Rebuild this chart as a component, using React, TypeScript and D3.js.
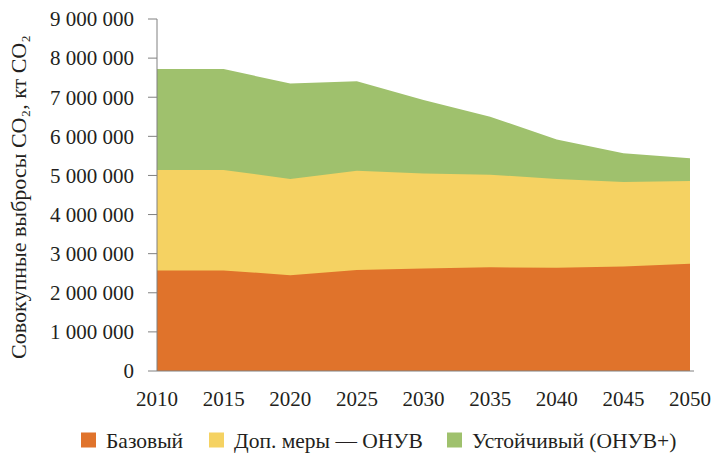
import React, { useEffect, useRef } from 'react'
import * as d3 from 'd3'

const years = [2010, 2015, 2020, 2025, 2030, 2035, 2040, 2045, 2050]
const baseline = [2570000, 2570000, 2450000, 2580000, 2620000, 2650000, 2640000, 2670000, 2740000]
const extraMeasures = [5140000, 5140000, 4910000, 5120000, 5050000, 5020000, 4910000, 4830000, 4860000]
const sustainable = [7720000, 7720000, 7350000, 7410000, 6930000, 6500000, 5920000, 5570000, 5440000]
const yTicks = [0, 1000000, 2000000, 3000000, 4000000, 5000000, 6000000, 7000000, 8000000, 9000000]

const seriesNames = ['Базовый', 'Доп. меры — ОНУВ', 'Устойчивый (ОНУВ+)']
const seriesColors = ['#e0732b', '#f5d262', '#9fc16d']

const fmt = (v: number) => d3.format(',')(v).replace(/,/g, ' ')

const App = () => {
  const ref = useRef<SVGSVGElement>(null)

  useEffect(() => {
    if (!ref.current) return
    const svg = d3.select(ref.current)
    svg.selectAll('*').remove()

    const x = d3.scaleLinear().domain([2010, 2050]).range([157, 690])
    const y = d3.scaleLinear().domain([0, 9000000]).range([371, 19])
    const font = '"Liberation Serif", "Times New Roman", serif'
    const ink = '#231f20'

    // draw areas back to front (they overlap, not stacked)
    const all = [baseline, extraMeasures, sustainable]
    for (let i = all.length - 1; i >= 0; i--) {
      const vals = all[i]
      const area = d3.area<number>()
        .x((_, j) => x(years[j]))
        .y0(y(0))
        .y1(d => y(d))
      svg.append('path')
        .attr('d', area(vals))
        .attr('fill', seriesColors[i])
    }

    // y axis
    const yAxis = svg.append('g')
    yAxis.append('line')
      .attr('x1', 157).attr('x2', 157)
      .attr('y1', y(9000000)).attr('y2', y(0))
      .attr('stroke', '#808080').attr('stroke-width', 1)
    yTicks.forEach(t => {
      yAxis.append('line')
        .attr('x1', 148).attr('x2', 157)
        .attr('y1', y(t)).attr('y2', y(t))
        .attr('stroke', '#808080')
      yAxis.append('text')
        .attr('x', 134).attr('y', y(t))
        .attr('dy', '0.35em')
        .attr('text-anchor', 'end')
        .style('font-family', font).style('font-size', '21px')
        .attr('fill', ink)
        .text(fmt(t))
    })

    // x axis
    svg.append('line')
      .attr('x1', 157).attr('x2', 694)
      .attr('y1', y(0)).attr('y2', y(0))
      .attr('stroke', '#808080')
    years.forEach(yr => {
      svg.append('text')
        .attr('x', x(yr)).attr('y', 406)
        .attr('text-anchor', 'middle')
        .style('font-family', font).style('font-size', '21px')
        .attr('fill', ink)
        .text(yr)
    })

    // axis title
    svg.append('text')
      .attr('transform', `translate(26,${(y(0) + y(9000000)) / 2 + 2}) rotate(-90)`)
      .attr('text-anchor', 'middle')
      .style('font-family', font).style('font-size', '22px')
      .attr('fill', ink)
      .text('Совокупные выбросы CO₂, кт CO₂')

    // legend
    const legendX = [81, 209, 447]
    seriesNames.forEach((name, i) => {
      const g = svg.append('g').attr('transform', `translate(${legendX[i]},440)`)
      g.append('rect')
        .attr('x', 0).attr('y', -7.5).attr('width', 15).attr('height', 15)
        .attr('fill', seriesColors[i])
      g.append('text')
        .attr('x', 25).attr('y', 0).attr('dy', '0.35em')
        .style('font-family', font).style('font-size', '21.5px')
        .attr('fill', ink)
        .text(name)
    })
  }, [])

  return (
    <svg ref={ref} width={711} height={453}
      style={{ position: 'absolute', left: 0, top: 0, background: '#fff' }} />
  )
}

export default App
